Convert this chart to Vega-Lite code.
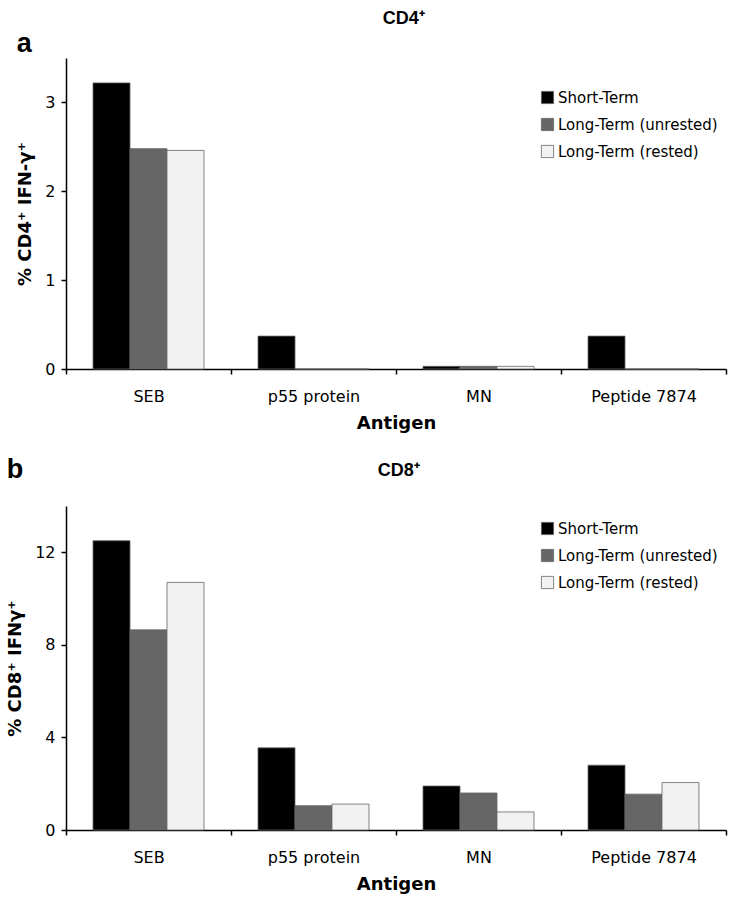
{
  "$schema": "https://vega.github.io/schema/vega-lite/v6.json",
  "padding": {"left": 6, "top": 10, "right": 10, "bottom": 2},
  "background": "white",
  "config": {
    "view": {"stroke": null},
    "font": "DejaVu Sans",
    "axis": {
      "grid": false,
      "domainColor": "#000",
      "domainWidth": 1.5,
      "tickColor": "#000",
      "tickWidth": 1.5,
      "tickSize": 5,
      "labelColor": "#000",
      "titleColor": "#000",
      "labelFont": "DejaVu Sans",
      "titleFont": "DejaVu Sans",
      "labelFontSize": 16,
      "titleFontSize": 18,
      "titleFontWeight": "bold"
    },
    "legend": {
      "labelFont": "DejaVu Sans",
      "labelFontSize": 15,
      "labelColor": "#000",
      "symbolType": "square",
      "symbolSize": 150,
      "symbolStrokeWidth": 0.8,
      "rowPadding": 10,
      "labelOffset": 3
    },
    "title": {"color": "#000", "font": "Liberation Sans"}
  },
  "data": {
    "values": [
      {"panel": "a", "antigen": "SEB", "condition": "Short-Term", "value": 3.22},
      {"panel": "a", "antigen": "SEB", "condition": "Long-Term (unrested)", "value": 2.48},
      {"panel": "a", "antigen": "SEB", "condition": "Long-Term (rested)", "value": 2.46},
      {"panel": "a", "antigen": "p55 protein", "condition": "Short-Term", "value": 0.37},
      {"panel": "a", "antigen": "p55 protein", "condition": "Long-Term (unrested)", "value": 0},
      {"panel": "a", "antigen": "p55 protein", "condition": "Long-Term (rested)", "value": 0},
      {"panel": "a", "antigen": "MN", "condition": "Short-Term", "value": 0.03},
      {"panel": "a", "antigen": "MN", "condition": "Long-Term (unrested)", "value": 0.03},
      {"panel": "a", "antigen": "MN", "condition": "Long-Term (rested)", "value": 0.03},
      {"panel": "a", "antigen": "Peptide 7874", "condition": "Short-Term", "value": 0.37},
      {"panel": "a", "antigen": "Peptide 7874", "condition": "Long-Term (unrested)", "value": 0},
      {"panel": "a", "antigen": "Peptide 7874", "condition": "Long-Term (rested)", "value": 0},
      {"panel": "b", "antigen": "SEB", "condition": "Short-Term", "value": 12.5},
      {"panel": "b", "antigen": "SEB", "condition": "Long-Term (unrested)", "value": 8.65},
      {"panel": "b", "antigen": "SEB", "condition": "Long-Term (rested)", "value": 10.7},
      {"panel": "b", "antigen": "p55 protein", "condition": "Short-Term", "value": 3.55},
      {"panel": "b", "antigen": "p55 protein", "condition": "Long-Term (unrested)", "value": 1.05},
      {"panel": "b", "antigen": "p55 protein", "condition": "Long-Term (rested)", "value": 1.12},
      {"panel": "b", "antigen": "MN", "condition": "Short-Term", "value": 1.9},
      {"panel": "b", "antigen": "MN", "condition": "Long-Term (unrested)", "value": 1.6},
      {"panel": "b", "antigen": "MN", "condition": "Long-Term (rested)", "value": 0.78},
      {"panel": "b", "antigen": "Peptide 7874", "condition": "Short-Term", "value": 2.8},
      {"panel": "b", "antigen": "Peptide 7874", "condition": "Long-Term (unrested)", "value": 1.55},
      {"panel": "b", "antigen": "Peptide 7874", "condition": "Long-Term (rested)", "value": 2.05}
    ]
  },
  "spacing": 24,
  "resolve": {"scale": {"color": "independent", "y": "independent"}, "legend": {"color": "independent"}},
  "vconcat": [
    {
      "title": {"text": "CD4⁺", "fontSize": 18, "fontWeight": "bold", "anchor": "middle", "dx": 32, "offset": 2},
      "vconcat": [
        {
          "title": {"text": "a", "anchor": "start", "frame": "bounds", "fontSize": 27, "fontWeight": "bold", "offset": 0},
          "width": 660,
          "height": 311,
          "transform": [{"filter": "datum.panel === 'a'"}],
          "mark": {"type": "bar", "stroke": "#666", "strokeWidth": 0.8},
          "encoding": {
            "x": {
              "field": "antigen", "type": "nominal",
              "sort": ["SEB", "p55 protein", "MN", "Peptide 7874"],
              "scale": {"paddingInner": 0, "paddingOuter": 0},
              "axis": {"title": "Antigen", "labelAngle": 0, "tickBand": "extent", "labelPadding": 14, "titlePadding": 10}
            },
            "xOffset": {
              "field": "condition", "type": "nominal",
              "sort": ["Short-Term", "Long-Term (unrested)", "Long-Term (rested)"],
              "scale": {"paddingInner": 0, "paddingOuter": 0.73}
            },
            "y": {
              "field": "value", "type": "quantitative",
              "scale": {"domain": [0, 3.5]},
              "axis": {"values": [0, 1, 2, 3], "title": "% CD4⁺ IFN-γ⁺", "titlePadding": 10, "labelPadding": 6}
            },
            "color": {
              "field": "condition", "type": "nominal",
              "scale": {"domain": ["Short-Term", "Long-Term (unrested)", "Long-Term (rested)"], "range": ["#000000", "#666666", "#f2f2f2"]},
              "legend": {"title": null, "orient": "none", "legendX": 474, "legendY": 32}
            }
          }
        }
      ]
    },
    {
      "title": {"text": "CD8⁺", "fontSize": 18, "fontWeight": "bold", "anchor": "middle", "dx": 32, "dy": 24, "offset": 0},
      "vconcat": [
        {
          "title": {"text": "b", "anchor": "start", "frame": "bounds", "fontSize": 27, "fontWeight": "bold", "offset": 22},
          "width": 660,
          "height": 324,
          "transform": [{"filter": "datum.panel === 'b'"}],
          "mark": {"type": "bar", "stroke": "#666", "strokeWidth": 0.8},
          "encoding": {
            "x": {
              "field": "antigen", "type": "nominal",
              "sort": ["SEB", "p55 protein", "MN", "Peptide 7874"],
              "scale": {"paddingInner": 0, "paddingOuter": 0},
              "axis": {"title": "Antigen", "labelAngle": 0, "tickBand": "extent", "labelPadding": 14, "titlePadding": 10}
            },
            "xOffset": {
              "field": "condition", "type": "nominal",
              "sort": ["Short-Term", "Long-Term (unrested)", "Long-Term (rested)"],
              "scale": {"paddingInner": 0, "paddingOuter": 0.73}
            },
            "y": {
              "field": "value", "type": "quantitative",
              "scale": {"domain": [0, 14]},
              "axis": {"values": [0, 4, 8, 12], "title": "% CD8⁺ IFNγ⁺", "titlePadding": 10, "labelPadding": 6}
            },
            "color": {
              "field": "condition", "type": "nominal",
              "scale": {"domain": ["Short-Term", "Long-Term (unrested)", "Long-Term (rested)"], "range": ["#000000", "#666666", "#f2f2f2"]},
              "legend": {"title": null, "orient": "none", "legendX": 474, "legendY": 15}
            }
          }
        }
      ]
    }
  ]
}
